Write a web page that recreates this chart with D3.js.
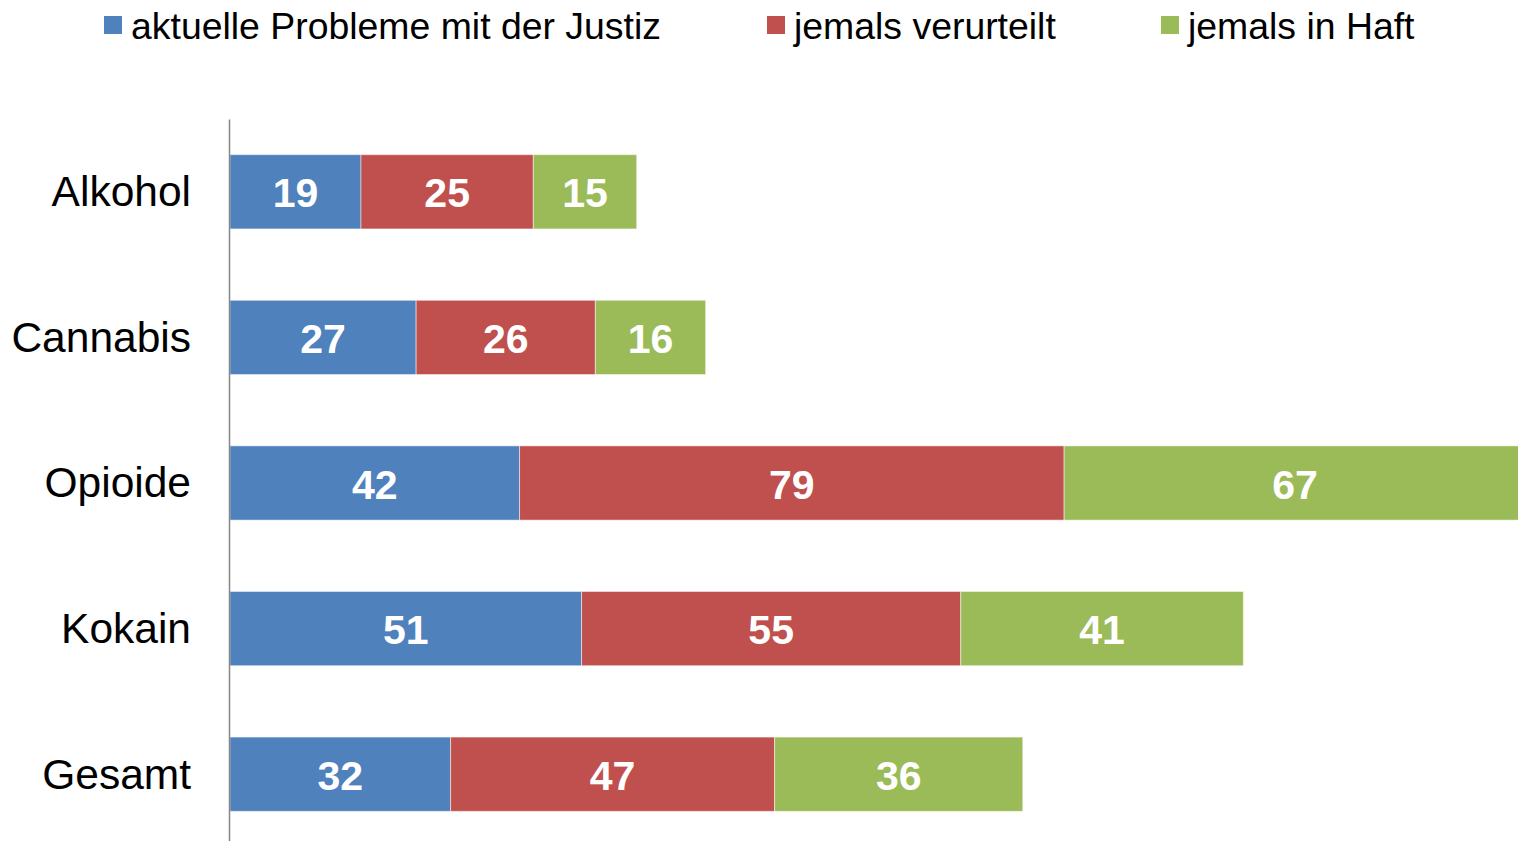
<!DOCTYPE html>
<html lang="de">
<head>
  <meta charset="UTF-8">
  <title>Probleme mit der Justiz</title>
  <script src="https://d3js.org/d3.v7.min.js"></script>
  <style>
    body {
      margin: 0;
      background: #fff;
      font-family: "Liberation Sans", Arial, sans-serif;
    }
    .axis path {
      stroke: #868686;
      stroke-width: 1.5px;
    }
    .axis text {
      font-size: 42.5px;
      fill: #000;
    }
    .value {
      font-size: 41px;
      font-weight: bold;
      fill: #fff;
    }
    .legend text {
      font-size: 37.4px;
      fill: #000;
    }
  </style>
</head>
<body>
  <svg id="chart" width="1518" height="841"></svg>

  <script>
    // data
    const categories = ["Alkohol", "Cannabis", "Opioide", "Kokain", "Gesamt"];
    const seriesNames = ["aktuelle Probleme mit der Justiz", "jemals verurteilt", "jemals in Haft"];
    const aktuelleProbleme = [19, 27, 42, 51, 32];
    const jemalsVerurteilt = [25, 26, 79, 55, 47];
    const jemalsInHaft = [15, 16, 67, 41, 36];
    const colors = ["#4F81BD", "#C0504D", "#9BBB59"];

    const svg = d3.select("#chart");

    const rows = categories.map((c, i) => ({
      category: c,
      s0: aktuelleProbleme[i],
      s1: jemalsVerurteilt[i],
      s2: jemalsInHaft[i]
    }));
    const keys = ["s0", "s1", "s2"];
    const stacked = d3.stack().keys(keys)(rows);

    const x = d3.scaleLinear()
      .domain([0, d3.max(rows, d => d.s0 + d.s1 + d.s2)])
      .range([230, 1526]);

    const y = d3.scaleBand()
      .domain(categories)
      .range([119, 847])
      .paddingInner(0.49)
      .paddingOuter(0.245);

    // bars
    const layers = svg.append("g")
      .selectAll("g")
      .data(stacked)
      .join("g")
      .attr("fill", (d, i) => colors[i]);

    layers.selectAll("rect")
      .data(d => d)
      .join("rect")
      .attr("x", d => x(d[0]))
      .attr("y", d => y(d.data.category))
      .attr("width", d => x(d[1]) - x(d[0]))
      .attr("height", y.bandwidth())
      .attr("stroke", "#fff")
      .attr("stroke-opacity", 0.5)
      .attr("stroke-width", 1);

    // value labels
    layers.selectAll("text")
      .data(d => d)
      .join("text")
      .attr("class", "value")
      .attr("x", d => (x(d[0]) + x(d[1])) / 2)
      .attr("y", d => y(d.data.category) + y.bandwidth() / 2)
      .attr("dy", "0.38em")
      .attr("text-anchor", "middle")
      .text(d => d[1] - d[0]);

    // category axis
    svg.append("g")
      .attr("class", "axis")
      .attr("transform", "translate(229,0)")
      .call(d3.axisLeft(y).tickSize(0).tickSizeOuter(0).tickPadding(38))
      .call(g => g.selectAll("text").attr("dy", "0.34em").attr("font-family", null));

    // legend
    const legendX = [104, 767, 1161];
    const legend = svg.append("g")
      .attr("class", "legend")
      .selectAll("g")
      .data(seriesNames)
      .join("g")
      .attr("transform", (d, i) => `translate(${legendX[i]},0)`);

    legend.append("rect")
      .attr("y", 16)
      .attr("width", 18)
      .attr("height", 18)
      .attr("fill", (d, i) => colors[i]);

    legend.append("text")
      .attr("x", 27)
      .attr("y", 39)
      .text(d => d);
  </script>
</body>
</html>
